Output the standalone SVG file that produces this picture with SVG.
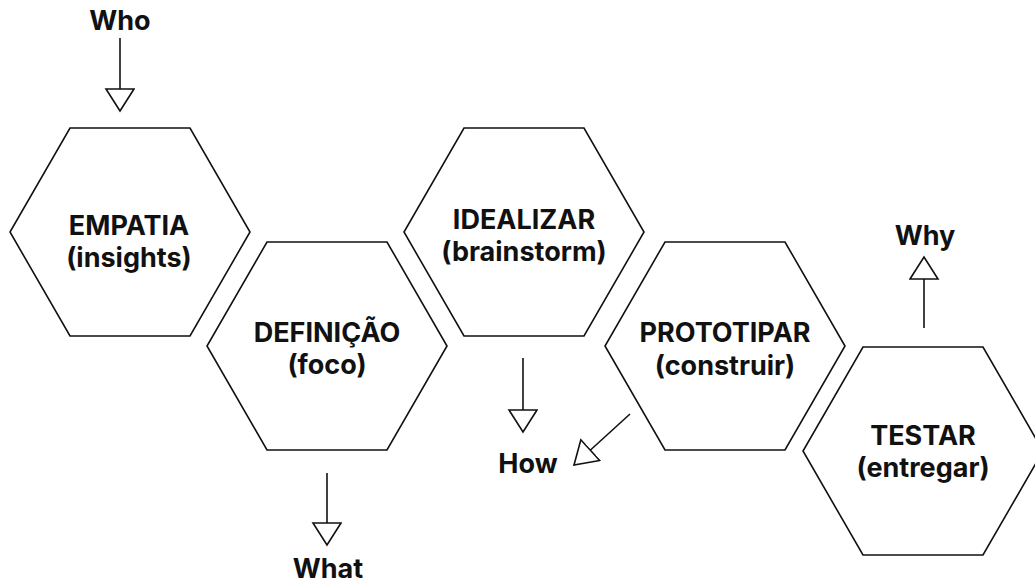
<svg xmlns="http://www.w3.org/2000/svg" width="1035" height="584" viewBox="0 0 1035 584">
<style>
.hex{fill:#fff;stroke:#111;stroke-width:1.6;stroke-linejoin:miter}
.t{font-family:Inter,"Liberation Sans",sans-serif;font-weight:700;font-size:27px;fill:#111;text-anchor:middle}
.a{stroke:#111;stroke-width:1.6;fill:none}
</style>
<defs>
<marker id="tri" markerUnits="userSpaceOnUse" markerWidth="26" markerHeight="32" refX="23" refY="15" orient="auto" viewBox="0 0 26 32">
<path d="M1,1 L23,15 L1,29 Z" fill="#fff" stroke="#111" stroke-width="1.6" stroke-linejoin="miter"/>
</marker>
</defs>
<rect width="1035" height="584" fill="#fff"/>
<g id="empatia">
<polygon class="hex" points="70,128 190,128 250,232 190,336 70,336 10,232"/>
<text class="t" x="129" y="235">EMPATIA</text>
<text class="t" x="129" y="267">(insights)</text>
</g>
<g id="definicao">
<polygon class="hex" points="267,242 387,242 447,346 387,450 267,450 207,346"/>
<text class="t" x="327" y="342">DEFINIÇÃO</text>
<text class="t" x="327" y="374">(foco)</text>
</g>
<g id="idealizar">
<polygon class="hex" points="464,128 584,128 644,232 584,336 464,336 404,232"/>
<text class="t" x="524" y="229">IDEALIZAR</text>
<text class="t" x="524" y="261">(brainstorm)</text>
</g>
<g id="prototipar">
<polygon class="hex" points="665,242 785,242 845,346 785,450 665,450 605,346"/>
<text class="t" x="725" y="342">PROTOTIPAR</text>
<text class="t" x="725" y="375">(construir)</text>
</g>
<g id="testar">
<polygon class="hex" points="863,347 983,347 1043,451 983,555 863,555 803,451"/>
<text class="t" x="923" y="445">TESTAR</text>
<text class="t" x="923" y="477">(entregar)</text>
</g>
<g id="labels">
<text class="t" x="120" y="30">Who</text>
<text class="t" x="328" y="578">What</text>
<text class="t" x="528" y="473">How</text>
<text class="t" x="925" y="245">Why</text>
</g>
<g id="connectors">
<line class="a" x1="120" y1="38" x2="120" y2="111" marker-end="url(#tri)"/>
<line class="a" x1="327" y1="473" x2="327" y2="545" marker-end="url(#tri)"/>
<line class="a" x1="523" y1="358" x2="523" y2="432" marker-end="url(#tri)"/>
<line class="a" x1="630" y1="414" x2="574" y2="465" marker-end="url(#tri)"/>
<line class="a" x1="924" y1="328" x2="924" y2="257" marker-end="url(#tri)"/>
</g>
</svg>
